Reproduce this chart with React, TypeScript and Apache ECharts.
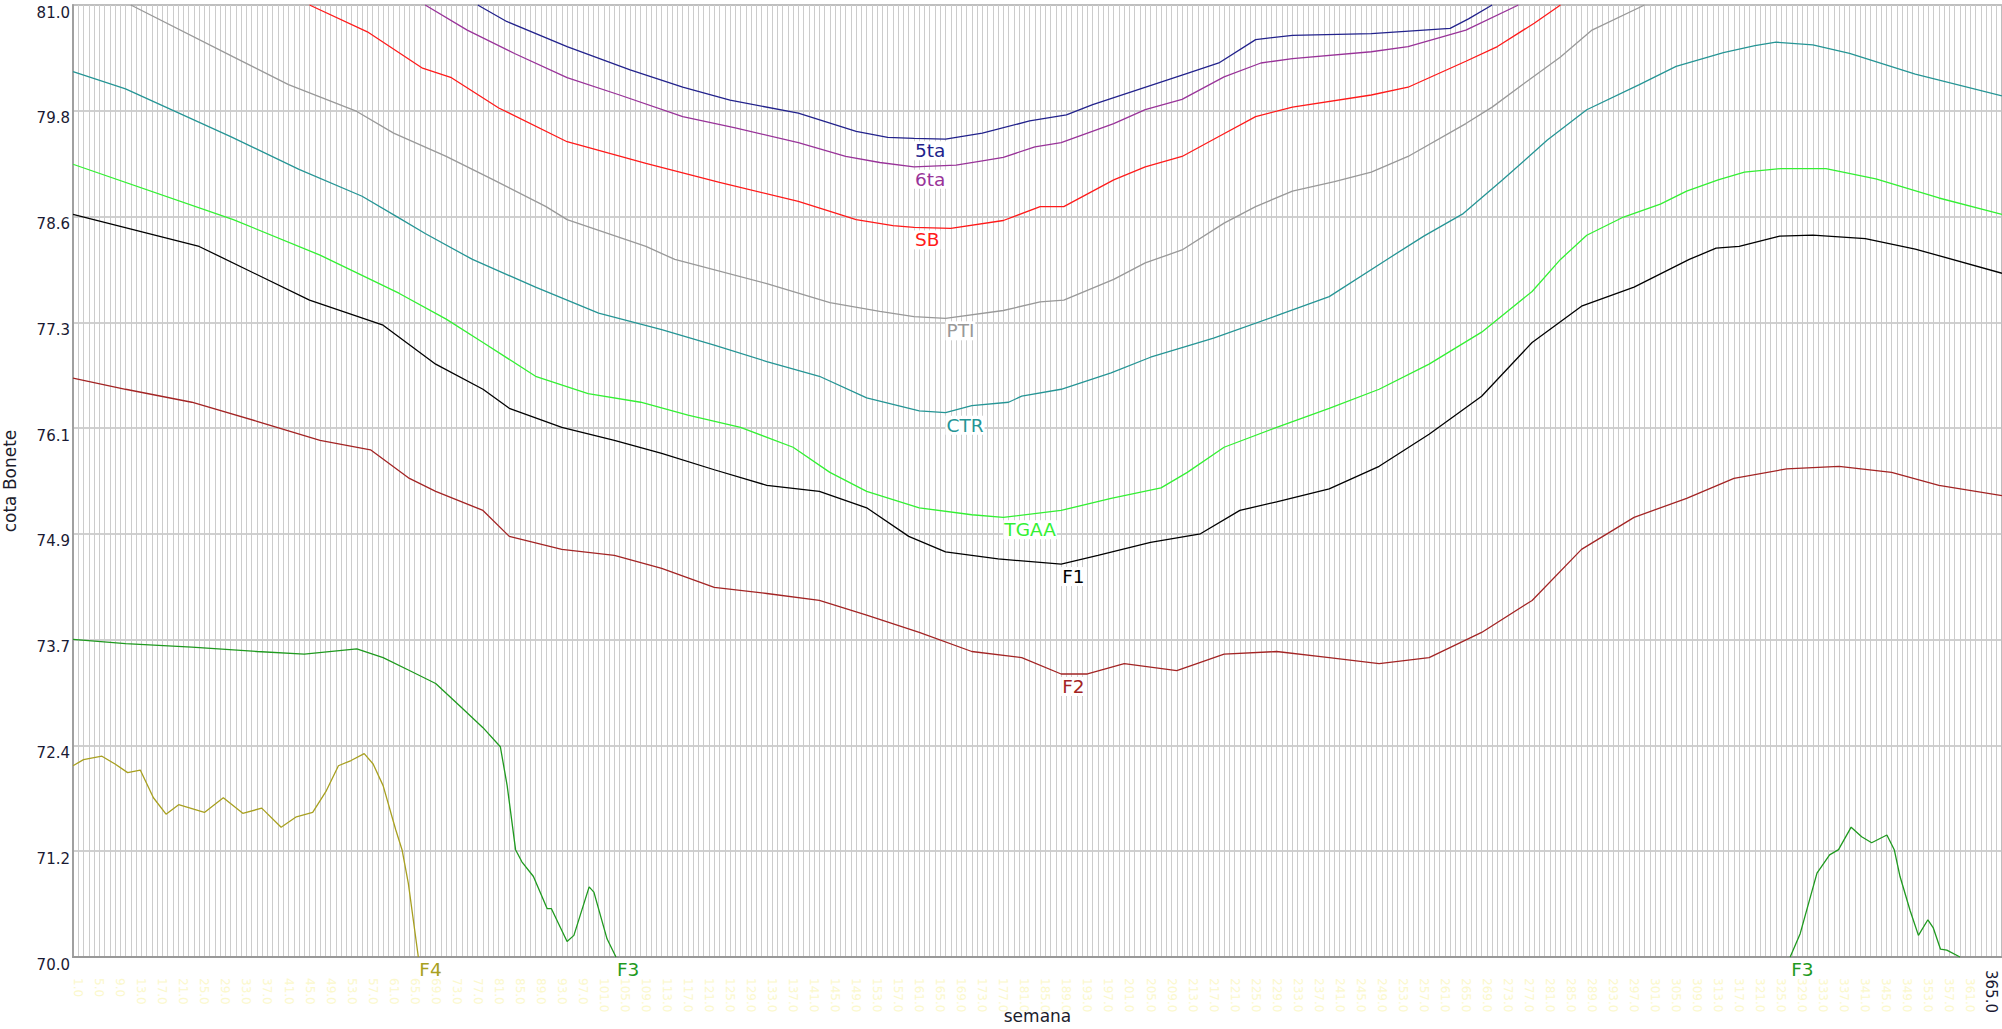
import React, { useEffect, useRef } from "react";
import * as echarts from "echarts";

// ---- data: [semana, cota] ----
const S_5TA = [[77,81.0],[82.5,80.81],[94,80.52],[106,80.25],[116,80.05],[125,79.90],[138,79.75],[149,79.54],[155,79.47],[160,79.46],[166,79.45],[173,79.52],[182,79.66],[189,79.73],[194,79.85],[211,80.19],[218,80.33],[225,80.60],[232,80.65],[247,80.67],[262,80.73],[265.5,80.84],[270,81.0]];
const S_6TA = [[67,81.0],[75,80.71],[84,80.44],[94,80.16],[104,79.96],[116,79.71],[126,79.58],[138,79.41],[147,79.25],[153.5,79.18],[160,79.13],[168,79.15],[173,79.20],[177,79.24],[183,79.36],[188,79.41],[198,79.63],[204,79.79],[211,79.91],[219,80.17],[226,80.33],[232,80.38],[247,80.46],[254,80.52],[265,80.71],[275,81.0]];
const S_SB = [[45,81.0],[56,80.69],[66.5,80.27],[72,80.16],[81,79.81],[94,79.42],[109,79.17],[123,78.95],[138,78.73],[149,78.52],[156,78.45],[160,78.43],[167,78.42],[177,78.51],[184,78.67],[188.5,78.67],[198,78.98],[204,79.13],[211,79.25],[218,79.48],[225,79.71],[232,79.82],[247,79.96],[254,80.05],[265,80.35],[271,80.52],[278,80.79],[283,81.0]];
const S_PTI = [[11,81.0],[30.5,80.40],[41,80.08],[54,79.77],[61,79.52],[71,79.25],[80,78.98],[90,78.67],[94,78.52],[109,78.21],[114.5,78.06],[132,77.78],[144,77.56],[153.5,77.46],[160,77.40],[166,77.38],[177,77.47],[184,77.57],[188.5,77.59],[198,77.83],[204,78.02],[211,78.17],[219,78.48],[225,78.67],[232,78.85],[240,78.96],[247,79.07],[254,79.25],[265,79.63],[270,79.82],[276,80.09],[283,80.40],[289,80.71],[299,81.0]];
const S_CTR = [[0,80.23],[10,80.03],[30,79.48],[43,79.10],[55,78.79],[62,78.54],[67,78.36],[76,78.06],[88,77.74],[100,77.44],[112,77.25],[122,77.07],[132,76.88],[142,76.71],[151,76.46],[161,76.31],[166,76.29],[171,76.37],[178,76.41],[180.5,76.48],[188,76.56],[197.5,76.75],[205,76.93],[217,77.15],[229,77.41],[239,77.63],[250,78.06],[257,78.33],[264.5,78.59],[272,78.98],[280.5,79.44],[288,79.79],[298,80.08],[305,80.29],[314,80.45],[320,80.53],[324,80.57],[331,80.54],[338,80.44],[350.5,80.20],[367,79.95]];
const S_TGAA = [[0,79.16],[30.5,78.52],[47,78.11],[62,77.67],[71,77.37],[78,77.10],[88,76.71],[98,76.51],[108,76.41],[117,76.26],[127,76.12],[137,75.89],[144,75.60],[151,75.38],[161,75.19],[171,75.11],[177,75.08],[188,75.16],[197.5,75.30],[207,75.42],[212,75.60],[219,75.89],[229,76.12],[239,76.34],[248.5,76.56],[258,76.85],[268,77.22],[277.6,77.69],[283,78.06],[288,78.34],[295,78.55],[302,78.70],[307,78.85],[313,78.98],[318,79.07],[325,79.11],[333.5,79.11],[343,78.99],[355,78.77],[367,78.58]];
const S_F1 = [[0,78.58],[24,78.21],[45,77.59],[59,77.30],[69,76.85],[78,76.56],[83,76.34],[93,76.12],[103,75.97],[112,75.82],[122,75.63],[132,75.45],[142,75.38],[151,75.19],[159,74.86],[166,74.68],[176,74.60],[188,74.54],[195,74.64],[205,74.79],[214.5,74.89],[222,75.16],[229,75.26],[239,75.41],[248.5,75.67],[258,76.04],[268,76.48],[277.6,77.10],[287,77.52],[297,77.74],[307.5,78.06],[312.6,78.19],[317,78.21],[324.7,78.33],[331,78.34],[341,78.30],[350.5,78.18],[367,77.90]];
const S_F2 = [[0,76.69],[10,76.56],[22.6,76.41],[35,76.19],[47,75.97],[56.6,75.86],[64,75.53],[69,75.38],[78,75.16],[83,74.86],[93,74.71],[103,74.64],[112,74.49],[122,74.27],[132,74.20],[142,74.12],[151,73.95],[161,73.75],[171,73.53],[180.5,73.46],[188,73.27],[193,73.27],[200,73.39],[210,73.31],[219,73.50],[229,73.53],[239,73.46],[248.5,73.39],[258,73.46],[268,73.75],[277.6,74.12],[287,74.71],[297,75.08],[307,75.30],[316,75.53],[326,75.64],[336,75.67],[346,75.60],[355,75.45],[367,75.33]];
const S_F3_A = [[0,73.67],[10,73.62],[22.6,73.58],[35,73.53],[44,73.50],[54,73.56],[59,73.46],[64,73.31],[69,73.16],[73.6,72.90],[78,72.65],[81.3,72.43],[82.6,71.98],[84.2,71.24],[85.4,71.10],[87.6,70.93],[90.2,70.56],[91,70.56],[94,70.18],[95.3,70.25],[98.2,70.81],[99.1,70.75],[101.6,70.21],[103.3,70.0]];
const S_F3_B = [[326.7,70.0],[328.6,70.27],[331.8,70.97],[334.2,71.18],[335.9,71.24],[338.3,71.50],[340.3,71.39],[342.2,71.32],[345.1,71.41],[346.5,71.24],[347.6,70.93],[349.5,70.54],[351.1,70.25],[352.9,70.43],[353.9,70.34],[355.3,70.09],[356.5,70.08],[359,70.0]];
const S_F4 = [[0,72.21],[2,72.28],[5.5,72.32],[8,72.23],[10.4,72.13],[12.8,72.16],[15.3,71.84],[17.7,71.65],[20.1,71.76],[25,71.67],[28.6,71.84],[32.3,71.66],[35.9,71.72],[39.6,71.50],[42.5,71.62],[45.6,71.67],[48.1,71.91],[50.5,72.21],[52.9,72.27],[55.4,72.35],[57.1,72.23],[59,71.98],[61.4,71.47],[62.6,71.24],[63.8,70.85],[65.7,70.0]];

const Y_MIN = 70.0;
const Y_MAX = 81.0;
const Y_STEPS = 9;
const X_MAX = 367;
const X_LABEL_LAST = 365;

const SERIES_DEF = [
  { name: "F4", data: S_F4, color: "#a8a020", labelAt: 65.7 },
  { name: "F3", data: S_F3_A, color: "#1f9a1f", labelAt: 103.3 },
  { name: "F3", data: S_F3_B, color: "#1f9a1f", labelAt: 326.7 },
  { name: "F2", data: S_F2, color: "#a32424", labelAt: 188 },
  { name: "F1", data: S_F1, color: "#000000", labelAt: 188 },
  { name: "TGAA", data: S_TGAA, color: "#33f033", labelAt: 177 },
  { name: "CTR", data: S_CTR, color: "#259595", labelAt: 166 },
  { name: "PTI", data: S_PTI, color: "#999999", labelAt: 166 },
  { name: "SB", data: S_SB, color: "#ff1a1a", labelAt: 160 },
  { name: "6ta", data: S_6TA, color: "#993399", labelAt: 160 },
  { name: "5ta", data: S_5TA, color: "#22228c", labelAt: 160 },
];

const FONT = "DejaVu Sans";

export default function App() {
  const ref = useRef<HTMLDivElement>(null);
  useEffect(() => {
    document.body.style.margin = "0";
    if (!ref.current) return;
    const chart = echarts.init(ref.current, null, { renderer: "svg" });
    const span = Y_MAX - Y_MIN;
    const series = SERIES_DEF.map((s) => ({
      type: "line",
      name: s.name,
      clip: false,
      silent: true,
      symbol: "circle",
      symbolSize: 0,
      showSymbol: true,
      lineStyle: { color: s.color, width: 1.3 },
      itemStyle: { color: s.color },
      emphasis: { disabled: true },
      label: {
        show: false,
        position: "bottom",
        align: "left",
        distance: 3,
        formatter: () => s.name,
        color: s.color,
        backgroundColor: "#ffffff",
        padding: [0, 1, 0, 1],
        fontFamily: FONT,
        fontSize: 18.5,
      },
      data: s.data.map(([w, v]) =>
        w === s.labelAt
          ? { value: [w, v - Y_MIN], label: { show: true } }
          : [w, v - Y_MIN]
      ),
    }));
    chart.setOption({
      animation: false,
      backgroundColor: "#ffffff",
      grid: {
        left: 73,
        right: 0,
        top: 5,
        bottom: 72,
        containLabel: false,
        outerBoundsMode: "none",
        show: true,
        borderColor: "#a8a8a8",
        borderWidth: 1.5,
        backgroundColor: "transparent",
      },
      xAxis: {
        type: "value",
        min: 0,
        max: X_MAX,
        interval: 1,
        name: "semana",
        nameLocation: "middle",
        nameGap: 50,
        nameMoveOverlap: false,
        nameTextStyle: { fontFamily: FONT, fontSize: 17, color: "#1c1c2c" },
        axisLine: { show: true, lineStyle: { color: "#999999", width: 2 } },
        axisTick: { show: false },
        splitLine: { show: true, lineStyle: { color: "#cccccc", width: 1 } },
        axisLabel: {
          rotate: -90,
          margin: 13,
          fontFamily: FONT,
          fontSize: 15,
          formatter: (v: number) =>
            v === X_LABEL_LAST
              ? "{d|" + v.toFixed(1) + "}"
              : v > 0 && v < X_LABEL_LAST && (v - 1) % 4 === 0
              ? "{y|" + v.toFixed(1) + "}"
              : "",
          rich: {
            d: { color: "#1a1a33", fontFamily: FONT, fontSize: 15 },
            y: { color: "#fbf8cc", fontFamily: FONT, fontSize: 12, padding: [0, 0, 0, 8] },
          },
        },
      },
      yAxis: {
        type: "value",
        min: 0,
        max: span,
        interval: span / Y_STEPS,
        name: "cota Bonete",
        nameLocation: "middle",
        nameGap: 55,
        nameMoveOverlap: false,
        nameTextStyle: { fontFamily: FONT, fontSize: 17, color: "#1c1c2c" },
        axisLine: { show: true, lineStyle: { color: "#a0a0a0", width: 2 } },
        axisTick: { show: false },
        splitLine: { show: true, lineStyle: { color: "#c0c0c0", width: 1.5 } },
        axisLabel: {
          margin: 3,
          verticalAlign: "top",
          fontFamily: FONT,
          fontSize: 15,
          color: "#1a1a33",
          formatter: (v: number) => (v + Y_MIN).toFixed(1),
        },
      },
      series,
    });
    return () => chart.dispose();
  }, []);
  return (
    <div
      ref={ref}
      style={{ position: "absolute", left: 0, top: 0, width: 2002, height: 1029 }}
    />
  );
}
